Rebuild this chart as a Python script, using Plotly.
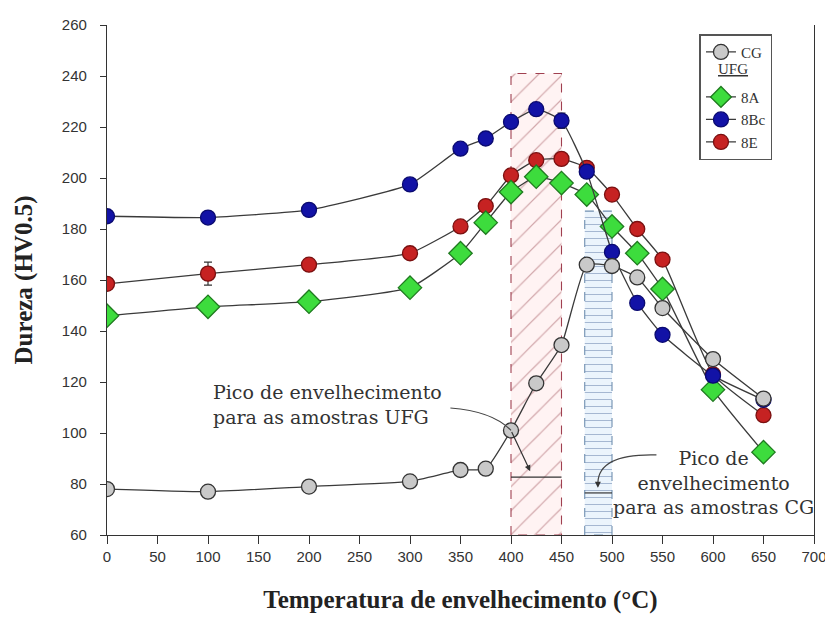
import plotly.graph_objects as go

# ---------------- data ----------------
temp_cg = [0, 100, 200, 300, 350, 375, 400, 425, 450, 475, 500, 525, 550, 600, 650]
hv_cg = [78, 77, 79, 81, 85.5, 86, 101, 119.5, 134.5, 166, 165.5, 161, 149, 129, 113.5]
err_cg = [0, 0, 0, 0, 0, 0, 0, 0, 0, 0, 0, 0, 0, 2.5, 0]

temp_ufg = [0, 100, 200, 300, 350, 375, 400, 425, 450, 475, 500, 525, 550, 600, 650]
hv_8a = [146, 149.5, 151.5, 157, 170.5, 182.5, 194.5, 200.5, 198, 193.5, 181, 170.5, 156.5, 117, 92.5]
err_8a = [0, 0, 0, 0, 0, 0, 0, 0, 0, 0, 0, 0, 2.5, 0, 0]
hv_8bc = [185, 184.5, 187.5, 197.5, 211.5, 215.5, 222, 227, 222.5, 202.5, 171, 151, 138.5, 122.5, 113]
err_8bc = [0, 0, 0, 0, 0, 0, 0, 0, 3, 0, 0, 0, 0, 0, 0]
hv_8e = [158.5, 162.5, 166, 170.5, 181, 189, 201, 207, 207.5, 204, 193.5, 180, 168, 123, 107]
err_8e = [0, 4.5, 0, 0, 0, 0, 0, 0, 0, 0, 0, 0, 0, 0, 0]

series_names = ["CG", "8A", "8Bc", "8E"]

# shaded peak-ageing ranges
ufg_peak_range = [400, 450]
ufg_peak_top = 241
cg_peak_range = [473, 500]
cg_peak_top = 187
y_floor = 60

x_ticks = list(range(0, 701, 50))
y_ticks = list(range(60, 261, 20))

# ---------------- styles ----------------
LINE = "#3a3a3a"
SERIF = "DejaVu Serif"
TITLE_SERIF = "Liberation Serif"
SANS = "Liberation Sans"

fig = go.Figure()

def region(xr, top, line_col, fg, bg, shape, size, solidity):
    return go.Scatter(
        x=[xr[0], xr[0], xr[1], xr[1], xr[0]],
        y=[y_floor, top, top, y_floor, y_floor],
        mode="lines", fill="toself",
        line=dict(color=line_col, width=1.1, dash="dash"),
        fillcolor=bg,
        fillpattern=dict(shape=shape, fgcolor=fg, bgcolor=bg, size=size, solidity=solidity),
        showlegend=False, hoverinfo="skip")

fig.add_trace(region(ufg_peak_range, ufg_peak_top, "#a04050",
                     "rgba(140,50,60,0.8)", "rgba(255,232,232,0.55)", "/", 17, 0.07))
fig.add_trace(region(cg_peak_range, cg_peak_top, "#6f8fb0",
                     "rgba(70,100,150,0.85)", "rgba(225,238,250,0.65)", "-", 7, 0.15))

def series(x, y, err, name, symbol, fill, edge, size, rank):
    return go.Scatter(
        x=x, y=y, name=name, mode="lines+markers",
        line=dict(color=LINE, width=1.3, shape="spline", smoothing=0.45),
        marker=dict(symbol=symbol, size=size, color=fill,
                    line=dict(color=edge, width=1.3)),
        error_y=dict(type="data", array=err, color="#333", thickness=1.2, width=4),
        legendrank=rank)

fig.add_trace(series(temp_ufg, hv_8e, err_8e, series_names[3], "circle", "#c62222", "#7a1010", 15, 5))
fig.add_trace(series(temp_ufg, hv_8a, err_8a, series_names[1], "diamond", "#3ddc3d", "#1f7a1f", 18, 3))
fig.add_trace(series(temp_ufg, hv_8bc, err_8bc, series_names[2], "circle", "#1212a6", "#0a0a70", 15, 4))
fig.add_trace(series(temp_cg, hv_cg, err_cg, series_names[0], "circle", "#c9c9c9", "#333333", 15, 1))
fig.add_trace(go.Scatter(x=[None], y=[None], name=" ", mode="markers",
                         marker=dict(color="rgba(0,0,0,0)", size=1),
                         legendrank=2, hoverinfo="skip"))

# ---------------- annotations ----------------
ann_font = dict(family=SERIF, size=19, color="#333")
fig.add_annotation(x=103, y=111, xref="x", yref="y", xanchor="left", yanchor="middle",
                   text="Pico de envelhecimento<br>para as amostras UFG", showarrow=False,
                   align="left", font=ann_font)
fig.add_annotation(x=600, y=80.4, xref="x", yref="y", xanchor="center", yanchor="middle",
                   text="Pico de<br>envelhecimento<br>para as amostras CG", showarrow=False,
                   align="center", font=ann_font)

fig.add_shape(type="path", xref="x", yref="y", path="M 340,109.8 Q 382,108.5 400,101",
              line=dict(color="#444", width=1.2))
fig.add_shape(type="path", xref="x", yref="y", path="M 544,91.4 Q 487,92 486,80.5",
              line=dict(color="#444", width=1.2))
fig.add_annotation(x=419, y=85, ax=400, ay=101, xref="x", yref="y", axref="x", ayref="y",
                   text="", showarrow=True, arrowhead=2, arrowsize=1, arrowwidth=1.2,
                   arrowcolor="#333")
fig.add_annotation(x=486, y=78.5, ax=486, ay=81, xref="x", yref="y", axref="x", ayref="y",
                   text="", showarrow=True, arrowhead=2, arrowsize=1, arrowwidth=1.2,
                   arrowcolor="#333")
fig.add_shape(type="line", xref="x", yref="y", x0=ufg_peak_range[0], x1=ufg_peak_range[1],
              y0=82.7, y1=82.7, line=dict(color="#333", width=1.2))
fig.add_shape(type="line", xref="x", yref="y", x0=cg_peak_range[0], x1=cg_peak_range[1],
              y0=76.5, y1=76.5, line=dict(color="#333", width=1.2))

fig.add_annotation(x=0.862, y=0.913, xref="paper", yref="paper", xanchor="left",
                   yanchor="middle", text="<u>UFG</u>", showarrow=False,
                   font=dict(family=TITLE_SERIF, size=15, color="#333"))

# ---------------- layout ----------------
# the page adds an 8px body margin, so the figure is 8px smaller on each axis
fig.update_layout(
    width=825, height=609,
    margin=dict(l=99, r=19, t=17, b=82, autoexpand=False),
    paper_bgcolor="white", plot_bgcolor="white",
    showlegend=True,
    legend=dict(x=0.838, y=0.982, xanchor="left", yanchor="top",
                bgcolor="white", bordercolor="#555", borderwidth=1.5,
                font=dict(family=TITLE_SERIF, size=15, color="#333"),
                itemwidth=30),
    xaxis=dict(range=[0, 700], tickvals=x_ticks, ticks="outside", ticklen=8,
               tickwidth=1.1, tickcolor="#333", showline=True, linecolor="#333",
               linewidth=1.3, showgrid=False, zeroline=False, automargin=False,
               tickfont=dict(family=SANS, size=15, color="#333"),
               title=dict(text="<b>Temperatura de envelhecimento (°C)</b>", standoff=26,
                          font=dict(family=TITLE_SERIF, size=25, color="#222"))),
    yaxis=dict(range=[60, 260], tickvals=y_ticks, ticks="outside", ticklen=6,
               tickwidth=1.1, tickcolor="#333", showline=True, linecolor="#333",
               linewidth=1.3, mirror=True, showgrid=False, zeroline=False,
               ticklabelstandoff=10, automargin=False,
               tickfont=dict(family=SANS, size=15, color="#333"),
               title=dict(text="<b>Dureza (HV0.5)</b>", standoff=22,
                          font=dict(family=TITLE_SERIF, size=25, color="#222"))),
)

fig.write_html("out.html")
